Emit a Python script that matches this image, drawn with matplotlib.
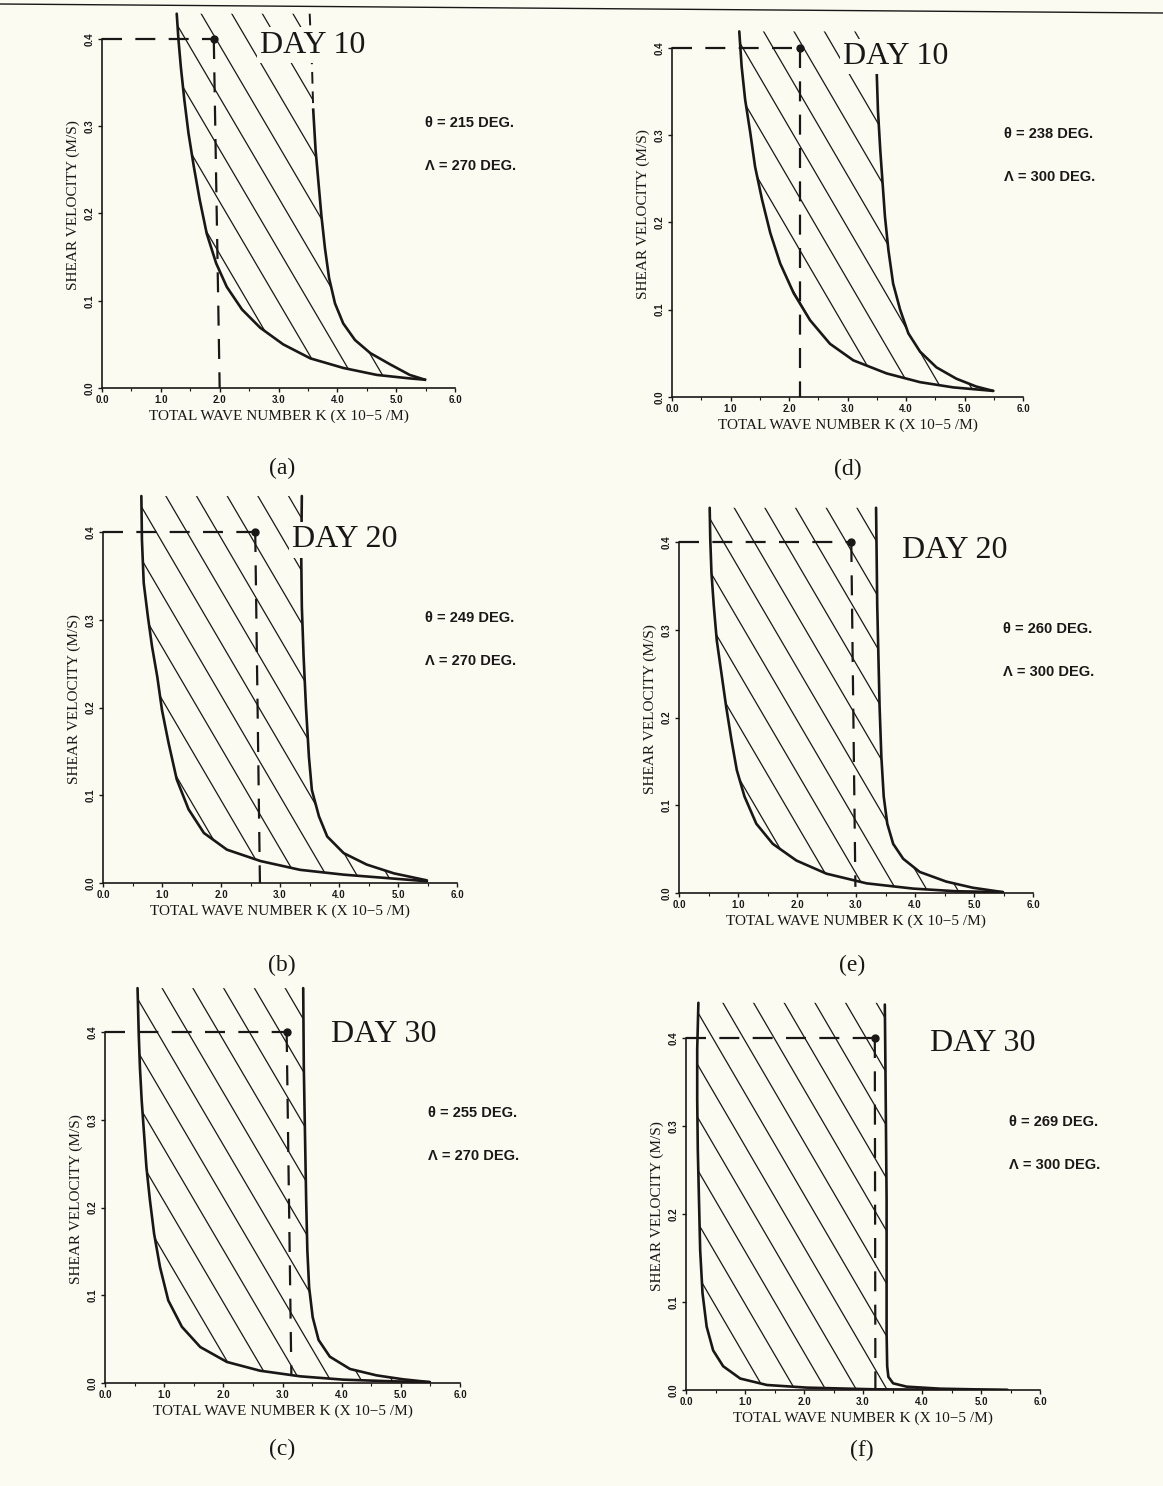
import numpy as np
import matplotlib.pyplot as plt
from matplotlib.patches import Polygon
from matplotlib.lines import Line2D

# ---- data (K in 1e-5 /m, shear velocity in m/s) ----
# (a) day 10, theta 215, lambda 270
left_k_a = [1.27, 1.30, 1.34, 1.40, 1.47, 1.56, 1.66, 1.78, 1.94, 2.12, 2.38, 2.69, 3.08, 3.54, 4.10, 4.67, 5.23, 5.49]
left_v_a = [0.429, 0.399, 0.368, 0.330, 0.292, 0.254, 0.216, 0.177, 0.143, 0.116, 0.090, 0.069, 0.050, 0.034, 0.023, 0.015, 0.011, 0.0095]
right_k_a = [3.53, 3.57, 3.59, 3.63, 3.68, 3.73, 3.79, 3.86, 3.96, 4.10, 4.30, 4.56, 4.90, 5.23, 5.49]
right_v_a = [0.429, 0.368, 0.319, 0.273, 0.235, 0.197, 0.160, 0.126, 0.097, 0.074, 0.055, 0.040, 0.027, 0.015, 0.0095]

# (b) day 20, theta 249, lambda 270
left_k_b = [0.65, 0.66, 0.69, 0.76, 0.83, 0.92, 1.00, 1.11, 1.25, 1.45, 1.71, 2.10, 2.67, 3.34, 4.08, 4.93, 5.49]
left_v_b = [0.441, 0.391, 0.342, 0.304, 0.270, 0.235, 0.197, 0.160, 0.118, 0.084, 0.057, 0.038, 0.025, 0.015, 0.0095, 0.005, 0.002]
right_k_b = [3.37, 3.36, 3.37, 3.40, 3.44, 3.49, 3.54, 3.66, 3.80, 4.08, 4.47, 4.93, 5.49]
right_v_b = [0.441, 0.372, 0.315, 0.258, 0.201, 0.144, 0.106, 0.076, 0.053, 0.034, 0.021, 0.011, 0.003]

# (c) day 30, theta 255, lambda 270
left_k_c = [0.55, 0.57, 0.59, 0.62, 0.66, 0.70, 0.76, 0.83, 0.93, 1.07, 1.30, 1.61, 2.06, 2.62, 3.30, 4.03, 4.87, 5.49]
left_v_c = [0.450, 0.398, 0.360, 0.322, 0.284, 0.246, 0.208, 0.170, 0.132, 0.094, 0.064, 0.041, 0.024, 0.014, 0.0076, 0.0038, 0.0019, 0.001]
right_k_c = [3.35, 3.36, 3.38, 3.40, 3.42, 3.45, 3.51, 3.61, 3.80, 4.14, 4.59, 5.04, 5.49]
right_v_c = [0.450, 0.360, 0.284, 0.208, 0.151, 0.109, 0.075, 0.049, 0.030, 0.016, 0.0087, 0.0042, 0.001]

# (d) day 10, theta 238, lambda 300
left_k_d = [1.15, 1.19, 1.25, 1.34, 1.42, 1.54, 1.68, 1.85, 2.08, 2.36, 2.70, 3.10, 3.67, 4.24, 4.81, 5.49]
left_v_d = [0.419, 0.379, 0.341, 0.302, 0.264, 0.226, 0.188, 0.153, 0.119, 0.088, 0.061, 0.042, 0.027, 0.017, 0.011, 0.007]
right_k_d = [3.50, 3.52, 3.56, 3.60, 3.64, 3.70, 3.78, 3.90, 4.04, 4.24, 4.52, 4.86, 5.20, 5.49]
right_v_d = [0.371, 0.329, 0.283, 0.245, 0.207, 0.168, 0.130, 0.100, 0.073, 0.052, 0.034, 0.021, 0.012, 0.007]

# (e) day 20, theta 260, lambda 300
left_k_e = [0.52, 0.53, 0.55, 0.59, 0.64, 0.72, 0.80, 0.89, 0.98, 1.11, 1.31, 1.59, 1.99, 2.50, 3.18, 3.97, 4.70, 5.49]
left_v_e = [0.439, 0.403, 0.365, 0.327, 0.288, 0.250, 0.212, 0.174, 0.140, 0.110, 0.079, 0.056, 0.037, 0.022, 0.011, 0.005, 0.002, 0.001]
right_k_e = [3.34, 3.35, 3.36, 3.38, 3.40, 3.43, 3.47, 3.53, 3.63, 3.80, 4.08, 4.53, 4.98, 5.49]
right_v_e = [0.439, 0.384, 0.327, 0.269, 0.212, 0.155, 0.110, 0.079, 0.056, 0.039, 0.024, 0.013, 0.006, 0.001]

# (f) day 30, theta 269, lambda 300
left_k_f = [0.21, 0.19, 0.19, 0.20, 0.22, 0.24, 0.28, 0.35, 0.46, 0.63, 0.92, 1.37, 2.05, 3.18, 4.59, 5.45]
left_v_f = [0.440, 0.387, 0.330, 0.273, 0.216, 0.159, 0.110, 0.072, 0.045, 0.027, 0.013, 0.0057, 0.0027, 0.0008, 0.0003, 0.0]
right_k_f = [3.37, 3.38, 3.39, 3.40, 3.40, 3.40, 3.41, 3.43, 3.51, 3.74, 4.31, 5.45]
right_v_f = [0.438, 0.368, 0.292, 0.216, 0.140, 0.064, 0.027, 0.015, 0.0076, 0.0038, 0.0015, 0.0]

# marked point at 0.4 m/s and the foot of its drop line
mark_k = [1.90, 2.58, 3.07, 2.19, 2.92, 3.20]
drop_k = [2.00, 2.66, 3.15, 2.19, 2.99, 3.21]
drop_v = [0.0, 0.0, 0.009, 0.0, 0.007, 0.0]
theta_deg = [215, 249, 255, 238, 260, 269]
lambda_deg = [270, 270, 270, 300, 300, 300]
days = [10, 20, 30, 10, 20, 30]
captions = ["(a)", "(b)", "(c)", "(d)", "(e)", "(f)"]
x_ticks = [0.0, 1.0, 2.0, 3.0, 4.0, 5.0, 6.0]
y_ticks = [0.0, 0.1, 0.2, 0.3, 0.4]

curves = [
    (left_k_a, left_v_a, right_k_a, right_v_a),
    (left_k_b, left_v_b, right_k_b, right_v_b),
    (left_k_c, left_v_c, right_k_c, right_v_c),
    (left_k_d, left_v_d, right_k_d, right_v_d),
    (left_k_e, left_v_e, right_k_e, right_v_e),
    (left_k_f, left_v_f, right_k_f, right_v_f),
]

# ---- layout (pixel positions of axis origin, x=6 end and y=0.4 level) ----
W, H = 1163, 1486
boxes = [(102, 455, 388, 39), (103, 457, 883, 532), (105, 460, 1383, 1032),
         (672, 1023, 397, 48), (679, 1033, 893, 542), (686, 1040, 1390, 1038)]
cap_pos = [(282, 468), (282, 965), (282, 1449), (848, 469), (852, 965), (862, 1450)]
day_pos = [(2.69, 0.393), (3.2, 0.391), (3.82, 0.397), (2.92, 0.39), (3.78, 0.39), (4.14, 0.394)]
ang_x = [5.49, 5.46, 5.46, 5.67, 5.49, 5.47]

ink = "#1c1717"
bg = "#fbfbf2"
YTOP = 0.46
slope = 0.115      # hatch slope in data units
gap = 0.52         # horizontal hatch spacing

serif = "Liberation Serif"
sans = "Liberation Sans"

fig = plt.figure(figsize=(W / 100, H / 100), dpi=100)
fig.patch.set_facecolor(bg)

# page edge line from the scan
fig.add_artist(Line2D([0, 1], [1 - 4 / H, 1 - 13 / H], color=ink, lw=1.0,
                      transform=fig.transFigure))

for i, (lk, lv, rk, rv) in enumerate(curves):
    x0, x6, y0, y4 = boxes[i]
    ax = fig.add_axes([x0 / W, 1 - y0 / H, (x6 - x0) / W, (y0 - y4) / H * YTOP / 0.4])
    ax.set_facecolor("none")
    ax.set_xlim(0, 6)
    ax.set_ylim(0, YTOP)

    lk, lv, rk, rv = map(np.array, (lk, lv, rk, rv))

    # hatched region between the two curves
    top = max(lv[0], rv[0])
    region = np.vstack([np.column_stack([lk, lv]),
                        np.column_stack([rk[::-1], rv[::-1]]),
                        [[rk[0], top], [lk[0], top]]])
    poly = Polygon(region, closed=True, facecolor="none", edgecolor="none")
    ax.add_patch(poly)
    c0 = lv[0] + slope * lk[0] - 0.012
    xs = np.array([0.0, 6.0])
    for j in range(-40, 40):
        c = c0 + j * gap * slope
        ln, = ax.plot(xs, c - slope * xs, color=ink, lw=0.9)
        ln.set_clip_path(poly)

    # boundary curves
    ax.plot(lk, lv, color=ink, lw=1.9, solid_joinstyle="round", solid_capstyle="round")
    if i == 0:
        solid = rv <= 0.32
        ax.plot(rk[solid], rv[solid], color=ink, lw=1.9, solid_joinstyle="round")
        dash = rv >= 0.319
        ax.plot(rk[dash], rv[dash], color=ink, lw=1.4, linestyle=(0, (6, 4)))
    else:
        ax.plot(rk, rv, color=ink, lw=1.9, solid_joinstyle="round", solid_capstyle="round")

    # reference point and dashed guide lines
    ax.plot([0, mark_k[i]], [0.4, 0.4], color=ink, lw=1.6, linestyle=(0, (9, 6)))
    ax.plot([mark_k[i], drop_k[i]], [0.4, drop_v[i]], color=ink, lw=1.6, linestyle=(0, (9, 6)))
    ax.plot([mark_k[i]], [0.4], "o", color=ink, ms=5)

    # annotations
    ax.text(day_pos[i][0], day_pos[i][1], f"DAY {days[i]}", family=serif, fontsize=23,
            ha="left", va="center", color=ink, zorder=5,
            bbox=dict(boxstyle="square,pad=0.1", fc=bg, ec="none"))
    ax.text(ang_x[i], day_pos[i][1] - 0.089, f"θ = {theta_deg[i]} DEG.", family=sans,
            fontweight="bold", fontsize=10.5, ha="left", va="center", color=ink, clip_on=False)
    ax.text(ang_x[i], day_pos[i][1] - 0.138, f"Λ = {lambda_deg[i]} DEG.", family=sans,
            fontweight="bold", fontsize=10.5, ha="left", va="center", color=ink, clip_on=False)

    # axes styling
    for s in ("top", "right"):
        ax.spines[s].set_visible(False)
    ax.spines["left"].set_bounds(0, 0.4)
    ax.spines["left"].set_color(ink)
    ax.spines["bottom"].set_color(ink)
    ax.spines["left"].set_linewidth(1.2)
    ax.spines["bottom"].set_linewidth(1.2)
    ax.set_xticks(x_ticks)
    ax.set_xticklabels([f"{t:.1f}" for t in x_ticks], family=sans, fontweight="bold", fontsize=7)
    ax.set_xticks(np.arange(0.5, 6, 1.0), minor=True)
    ax.set_yticks(y_ticks)
    ax.set_yticklabels([f"{t:.1f}" for t in y_ticks], family=sans, fontweight="bold",
                       fontsize=7, rotation=90, va="center")
    ax.tick_params(direction="out", length=3, width=1, colors=ink, pad=2)
    ax.tick_params(which="minor", direction="out", length=2, width=0.8, colors=ink)
    ax.set_xlabel("TOTAL WAVE NUMBER K (X 10−5 /M)", family=serif, fontsize=11,
                  color=ink, labelpad=3)
    ax.set_ylabel("SHEAR VELOCITY (M/S)", family=serif, fontsize=11, color=ink)
    ax.yaxis.set_label_coords(-0.062, 0.4 / YTOP / 2 + 0.02)

    cx, cy = cap_pos[i]
    fig.text(cx / W, 1 - cy / H, captions[i], family=serif, fontsize=17,
             ha="center", va="center", color=ink)

fig.savefig("out.png", dpi=100, facecolor=fig.get_facecolor())
